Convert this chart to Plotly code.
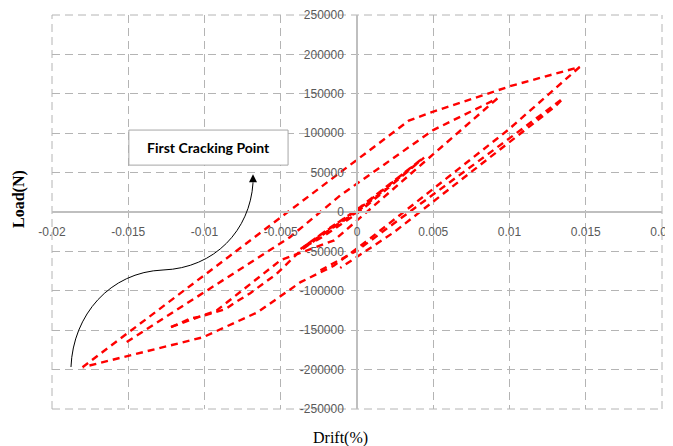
import plotly.graph_objects as go

# ---- tick labels ----
x_ticks = [-0.02, -0.015, -0.01, -0.005, 0, 0.005, 0.01, 0.015, 0.02]
x_tick_text = ["-0.02", "-0.015", "-0.01", "-0.005", "0", "0.005", "0.01", "0.015", "0.02"]
y_ticks = [-250000, -200000, -150000, -100000, -50000, 0, 50000, 100000, 150000, 200000, 250000]
y_tick_text = ["-250000", "-200000", "-150000", "-100000", "-50000", "0",
               "50000", "100000", "150000", "200000", "250000"]

# ---- hysteresis branches (Drift %, Load N) ----
# small cycles around the origin
drift_small = [0, 0.0044, 0.0022, 0.0, -0.0023, -0.0037, -0.0017, 0.0, 0.0043, 0.0024, 0.0002, -0.0035, 0.0]
load_small = [0, 69000, 33000, -2000, -32000, -47000, -19000, 2000, 68000, 39000, 6000, -44000, 0]

# second cycle: unloading branch and wavy reloading branch
drift_c2_down = [0.0092, -0.0015, -0.0050, -0.0092, -0.0122]
load_c2_down = [144000, -36000, -61000, -125000, -146000]
drift_c2_up = [-0.0122, -0.0109, -0.0101, -0.0093, -0.0086, -0.0080, -0.0070, -0.0053, -0.0037, -0.0011, 0.0]
load_c2_up = [-146000, -135000, -132000, -127000, -123000, -115000, -103000, -79000, -49000, -13000, 0]

# loading branch to the second peak
drift_c2_load = [-0.0151, -0.0044, -0.0011, 0.0050, 0.0092]
load_c2_load = [-165000, -32000, 21000, 104000, 144000]

# third cycle (repeated excursion)
drift_c3 = [-0.0024, 0.0000, 0.0101, 0.0135, 0.0130, 0.0024, -0.0011]
load_c3 = [-74000, -49000, 95000, 144000, 134000, -26000, -71000]

# largest cycle
drift_c4 = [-0.0180, 0.0034, 0.0048, 0.0101, 0.0146, 0.0099, 0.0009, -0.0015,
            -0.0037, -0.0065, -0.0101, -0.0151, -0.0180]
load_c4 = [-197000, 116000, 126000, 160000, 184000, 104000, -33000, -68000,
           -89000, -127000, -159000, -183000, -197000]

branches = [
    (drift_small, load_small),
    (drift_c2_load, load_c2_load),
    (drift_c2_down, load_c2_down),
    (drift_c2_up, load_c2_up),
    (drift_c3, load_c3),
    (drift_c4, load_c4),
]

fig = go.Figure()
for dx, ly in branches:
    fig.add_trace(go.Scatter(
        x=dx, y=ly, mode="lines",
        line=dict(color="#ff0000", width=2.4, dash="7px,5px"),
        showlegend=False, hoverinfo="skip",
    ))

grid_col = "#b4b4b4"
axis_col = "#bfbfbf"
tick_font = dict(family="Liberation Sans, Arial, sans-serif", size=12, color="#595959")

# page body adds an 8px offset; margins compensate so the plot area sits at 52..662 x 15..409
fig.update_layout(
    width=673, height=446,
    margin=dict(l=44, r=19, t=7, b=45, autoexpand=False),
    paper_bgcolor="white", plot_bgcolor="white",
    showlegend=False,
    xaxis=dict(
        range=[-0.02, 0.02], tickvals=x_ticks, ticktext=x_tick_text,
        showgrid=True, gridcolor=grid_col, gridwidth=1, griddash="8px,5px",
        zeroline=False, showline=True, linecolor=axis_col, linewidth=1.5,
        anchor="free", position=0.5, ticks="", ticklabelstandoff=9,
        ticklabeloverflow="allow", automargin=False,
        tickfont=tick_font, fixedrange=True,
    ),
    yaxis=dict(
        range=[-250000, 250000], tickvals=y_ticks, ticktext=y_tick_text,
        showgrid=True, gridcolor=grid_col, gridwidth=1, griddash="8px,5px",
        zeroline=False, showline=True, linecolor=axis_col, linewidth=1.5,
        anchor="free", position=0.5, ticks="", ticklabelstandoff=10,
        ticklabeloverflow="allow", automargin=False,
        tickfont=tick_font, fixedrange=True,
    ),
)

# dashed gridlines on the plot-area edges
for x0, y0, x1, y1 in [(0, 0, 1, 0), (0, 1, 1, 1), (0, 0, 0, 1), (1, 0, 1, 1)]:
    fig.add_shape(type="line", xref="paper", yref="paper", x0=x0, y0=y0, x1=x1, y1=y1,
                  line=dict(color=grid_col, width=1, dash="8px,5px"), layer="below")

# axis titles
fig.add_annotation(
    text="<b>Load(N)</b>", xref="paper", yref="paper",
    x=(19 - 52) / 610, y=(409 - 199) / 394, textangle=-90, showarrow=False,
    font=dict(family="Liberation Serif, Times New Roman, serif", size=16, color="#000000"),
    xanchor="center", yanchor="middle",
)
fig.add_annotation(
    text="Drift(%)", xref="paper", yref="paper",
    x=(340 - 52) / 610, y=(409 - 438) / 394, showarrow=False,
    font=dict(family="Liberation Serif, Times New Roman, serif", size=16, color="#000000"),
    xanchor="center", yanchor="middle",
)

# callout box
fig.add_shape(
    type="rect", xref="paper", yref="paper",
    x0=0.126, x1=0.387, y0=0.619, y1=0.708,
    line=dict(color="#a6a6a6", width=1), fillcolor="white", layer="above",
)
fig.add_annotation(
    text="<b>First Cracking Point</b>", xref="paper", yref="paper",
    x=(0.126 + 0.387) / 2, y=(0.619 + 0.708) / 2, showarrow=False,
    font=dict(family="Lato, Open Sans, sans-serif", size=14, color="#000000"),
    xanchor="center", yanchor="middle",
)

# curved arrow
fig.add_shape(
    type="path", xref="paper", yref="paper",
    path="M 0.0311,0.1066 C 0.0344,0.2386 0.0951,0.3477 0.182,0.3528 "
         "C 0.2672,0.3579 0.3246,0.4543 0.3295,0.5735",
    line=dict(color="#000000", width=1), layer="above",
)
fig.add_annotation(
    xref="paper", yref="paper", axref="pixel", ayref="pixel",
    x=0.3295, y=0.596, ax=0, ay=10, text="", showarrow=True,
    arrowhead=2, arrowsize=1.6, arrowwidth=1, arrowcolor="#000000",
)

fig.write_html("out.html")
